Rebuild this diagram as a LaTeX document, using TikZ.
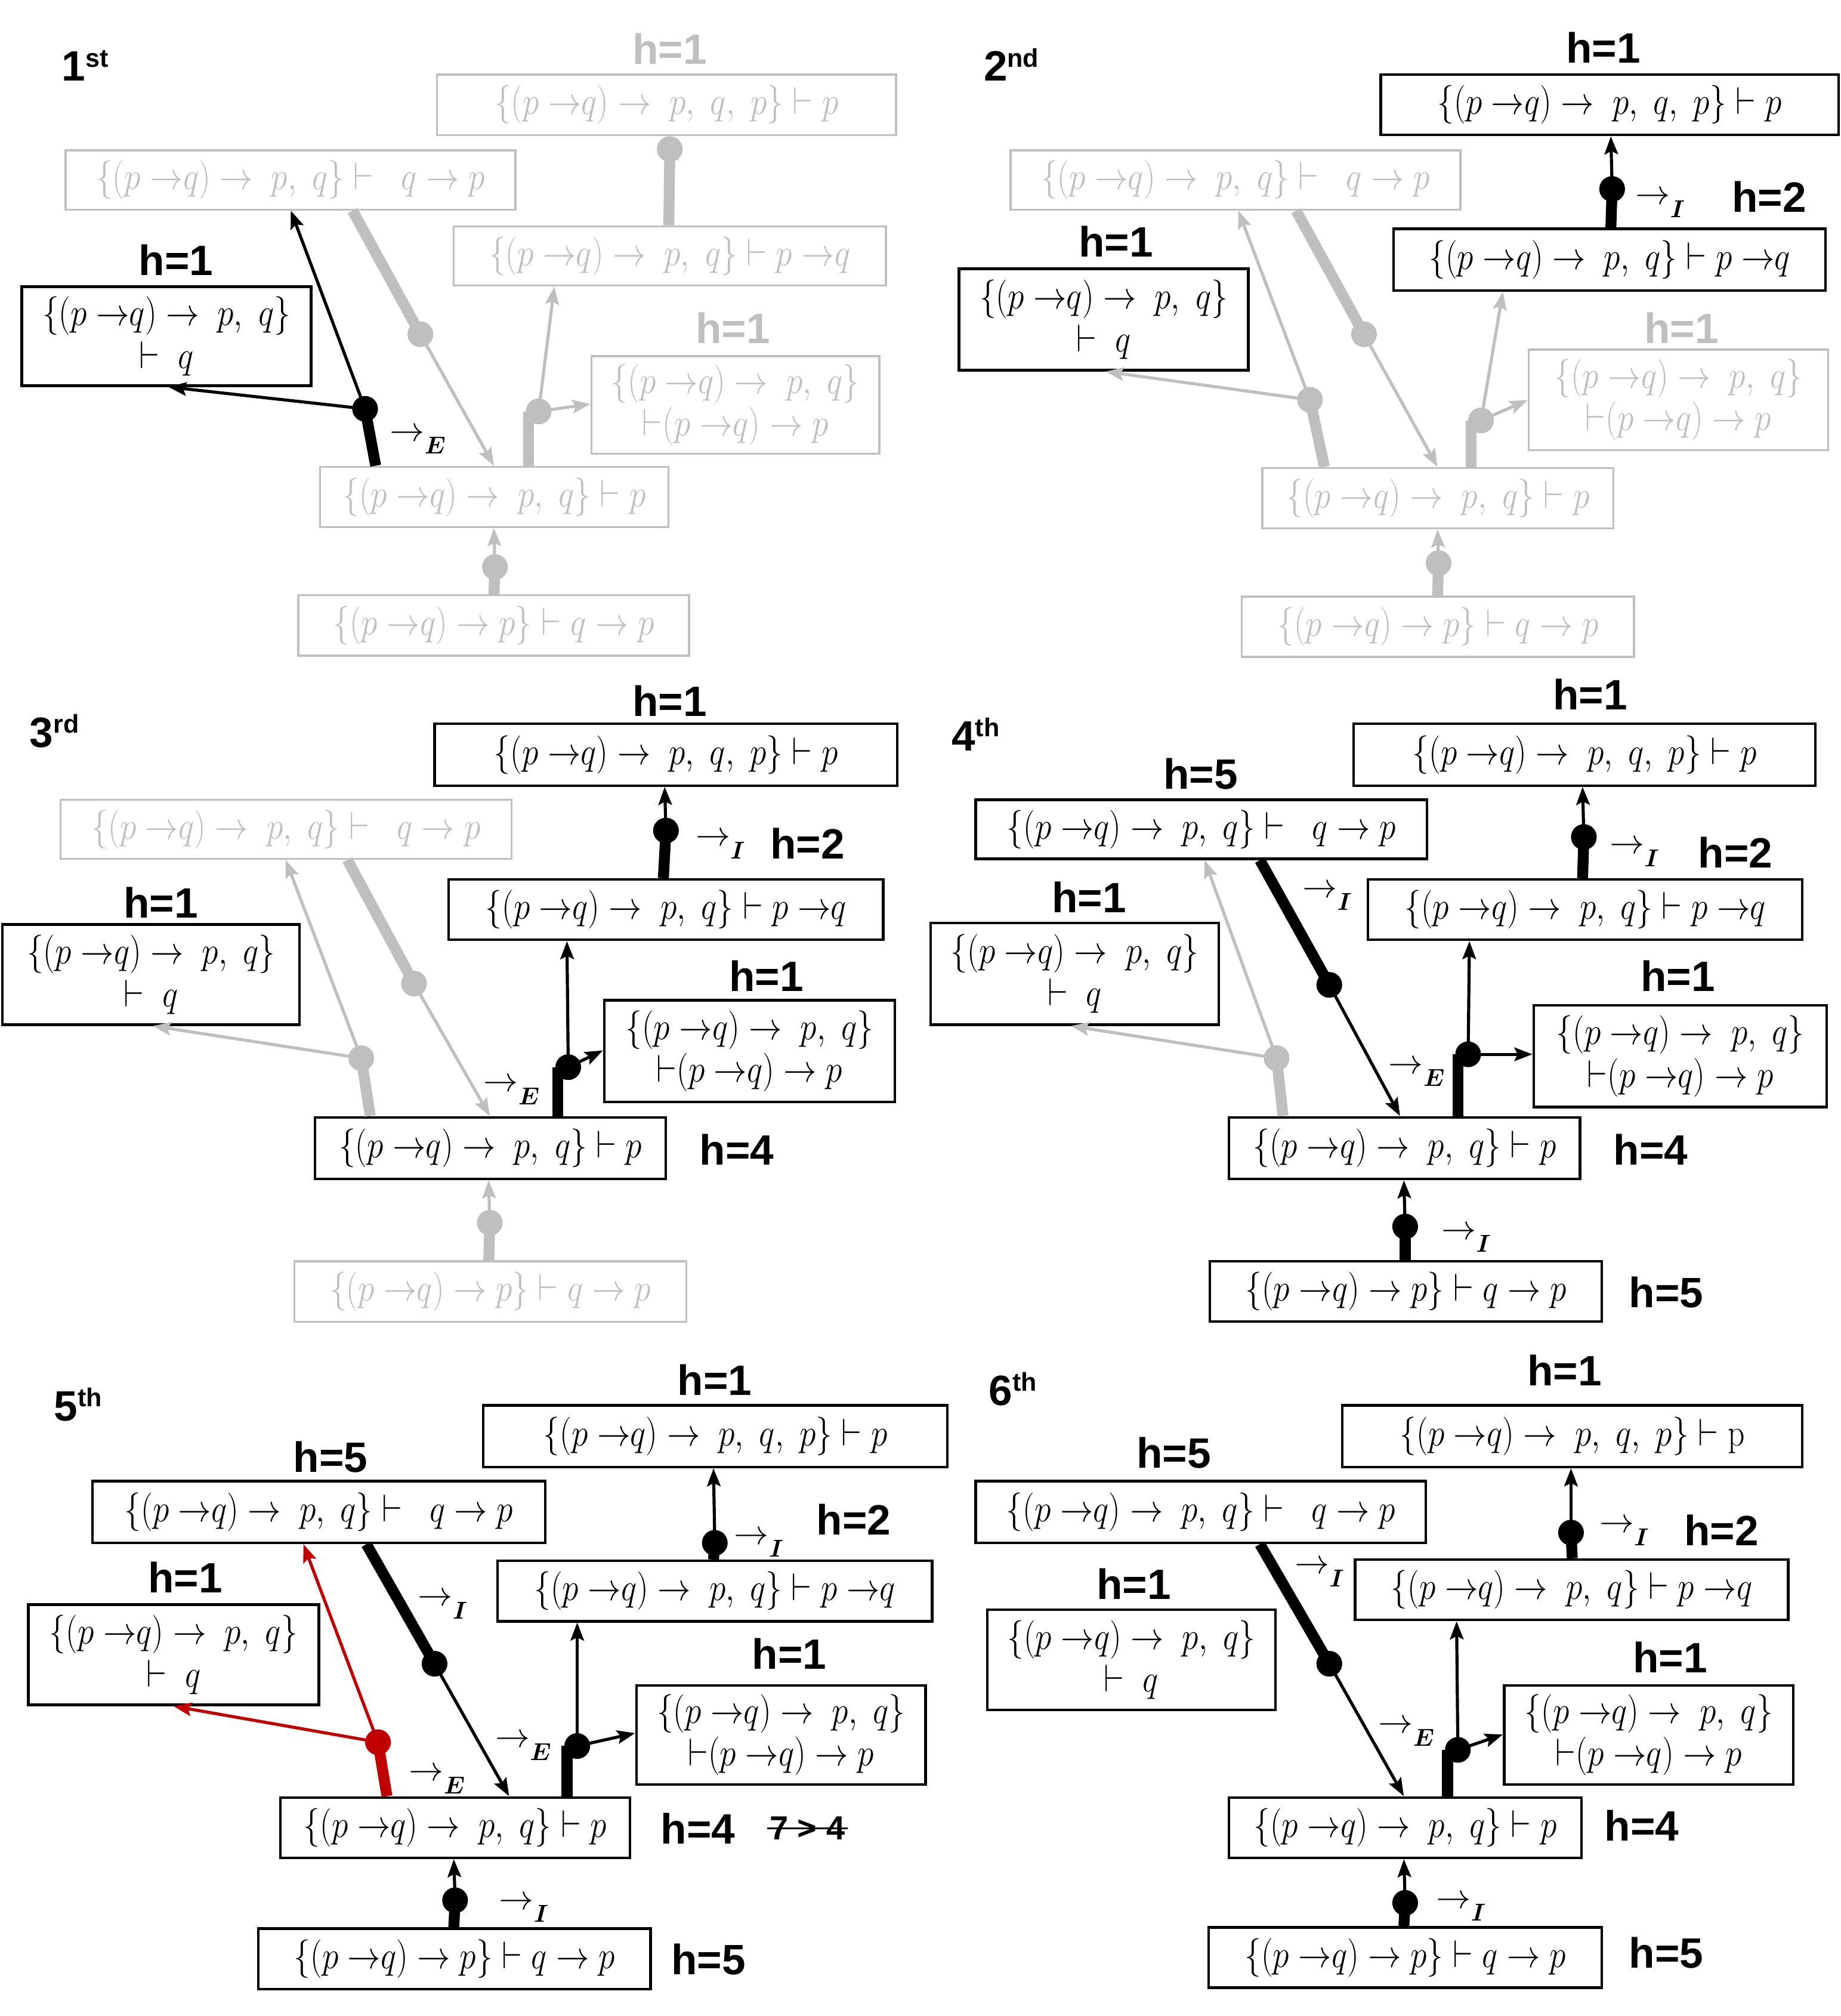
\RequirePackage{fix-cm}
\documentclass[tikz,border=0pt]{standalone}
\usepackage{amsmath}
\usepackage{fontspec}
\newfontfamily\hfont{Liberation Sans}
\usetikzlibrary{arrows.meta}
\definecolor{lg}{RGB}{191,191,191}
\definecolor{rd}{RGB}{192,0,0}
\newcommand{\bxfont}{\fontsize{30}{33}\selectfont}
\newcommand{\hlfont}{\hfont\bfseries\fontsize{33}{33}\selectfont}
\newcommand{\sups}[1]{\raisebox{11pt}{\fontsize{20}{20}\selectfont #1}}
\newcommand{\rlab}[1]{{\fontsize{27}{27}\selectfont$\rightarrow$\raisebox{-10pt}{\fontsize{19}{19}\selectfont$\boldsymbol{#1}$}}}
\newcommand{\sq}[1]{\scalebox{0.86}[1]{$#1$}}
\newcommand{\pqx}{(p\;{\rightarrow}q)}
\newcommand{\txA}{\sq{\{\pqx\rightarrow\;p,\ q,\ p\}\vdash p}}
\newcommand{\txAr}{\sq{\{\pqx\rightarrow\;p,\ q,\ p\}\vdash \mathrm{p}}}
\newcommand{\txB}{\sq{\{\pqx\rightarrow\;p,\ q\}\vdash\;\;q\rightarrow p}}
\newcommand{\txC}{\sq{\{\pqx\rightarrow\;p,\ q\}\vdash p\;{\rightarrow}q}}
\newcommand{\txD}{\sq{\{\pqx\rightarrow\;p,\ q\}}\\\sq{\vdash\;q}}
\newcommand{\txE}{\sq{\{\pqx\rightarrow\;p,\ q\}}\\\sq{\mathord{\vdash}\pqx\rightarrow p}}
\newcommand{\txF}{\sq{\{\pqx\rightarrow\;p,\ q\}\vdash p}}
\newcommand{\txG}{\sq{\{\pqx\rightarrow p\}\vdash q\rightarrow p}}
\newcommand{\mkbox}[7]{\node[#2,minimum width={#5-#3},minimum height={#6-#4}] (#1) at ({(#3+#5)/2},{(#4+#6)/2}) {#7};}
\tikzset{
  bk/.style={draw=black,line width=2pt,text=black,align=center,inner sep=0pt,font=\bxfont},
  bg/.style={draw=lg,line width=1.6pt,text=lg,align=center,inner sep=0pt,font=\bxfont},
  thk/.style={line width=8.5pt},
  arw/.style={line width=2.4pt,-{Stealth[length=14pt,width=10.5pt,inset=2.5pt]}},
  dt/.style={circle,fill=#1,inner sep=0pt,minimum size=20pt},
  dt/.default=black,
  hl/.style={font=\hlfont,inner sep=0pt},
  lab/.style={inner sep=0pt,anchor=base west},
  pnum/.style={inner sep=0pt,anchor=base west,font=\hlfont},
}
\begin{document}
\begin{tikzpicture}[x=1pt,y=-1pt]
\fill[white] (0,0) rectangle (1432,1568);
\useasboundingbox (0,0) rectangle (1432,1568);

% ================= Panel 1 =================
\mkbox{aA}{bg}{340}{58}{697}{105}{\txA}
\mkbox{aB}{bg}{51}{117}{401}{163}{\txB}
\mkbox{aC}{bg}{353}{176}{689}{222}{\txC}
\mkbox{aD}{bk}{17}{223}{242}{300}{\txD}
\mkbox{aE}{bg}{460}{277}{684}{353}{\txE}
\mkbox{aF}{bg}{249}{363}{520}{410}{\txF}
\mkbox{aG}{bg}{232}{463}{536}{510}{\txG}
\node[dt=lg] (ad1) at (385,441) {};
\draw[thk,lg] ([xshift=153pt]aG.north west) -- (ad1.center);
\draw[arw,lg] (ad1.center) -- ([xshift=136pt]aF.south west);
\node[dt=lg] (ad2) at (419,320) {};
\coordinate (aFt) at ([xshift=163pt]aF.north west);
\draw[thk,lg] (aFt) -- (aFt |- ad2.center);
\draw[arw,lg] (ad2.center) -- ([xshift=79pt]aC.south west);
\draw[arw,lg] (ad2.center) -- ([yshift=-38pt]aE.north west);
\node[dt=lg] (ad3) at (327,260) {};
\draw[thk,lg] ([xshift=224pt]aB.south west) -- (ad3.center);
\draw[arw,lg] (ad3.center) -- ([xshift=136pt]aF.north west);
\node[dt=lg] (ad5) at (521,116) {};
\draw[thk,lg] ([xshift=168pt]aC.north west) -- (ad5.center);
\draw[arw,lg] (ad5.center) -- ([xshift=181pt,yshift=-6pt]aA.south west);
\node[dt] (ad4) at (284,318) {};
\draw[thk] ([xshift=44pt]aF.north west) -- (ad4.center);
\draw[arw] (ad4.center) -- ([xshift=176pt]aB.south west);
\draw[arw] (ad4.center) -- ([xshift=115pt]aD.south west);
\node[pnum] (an) at (48,63) {1\sups{st}};
\node[hl,text=lg] (ah1) at (521,38) {h=1};
\node[hl] (ah2) at (137,202) {h=1};
\node[hl,text=lg] (ah3) at (570,255) {h=1};
\node[lab] (al1) at (303,343) {\rlab{E}};

% ================= Panel 2 =================
\mkbox{bA}{bk}{1074}{58}{1430}{105}{\txA}
\mkbox{bB}{bg}{786}{117}{1136}{163}{\txB}
\mkbox{bC}{bk}{1084}{178}{1420}{226}{\txC}
\mkbox{bD}{bk}{746}{209}{971}{288}{\txD}
\mkbox{bE}{bg}{1189}{272}{1422}{350}{\txE}
\mkbox{bF}{bg}{982}{364}{1255}{411}{\txF}
\mkbox{bG}{bg}{966}{464}{1271}{511}{\txG}
\node[dt=lg] (bd2) at (1119,438) {};
\draw[thk,lg] ([xshift=153pt]bG.north west) -- (bd2.center);
\draw[arw,lg] (bd2.center) -- ([xshift=137pt]bF.south west);
\node[dt=lg] (bd3) at (1152,327) {};
\coordinate (bFt) at ([xshift=163pt]bF.north west);
\draw[thk,lg] (bFt) -- (bFt |- bd3.center);
\draw[arw,lg] (bd3.center) -- ([xshift=86pt]bC.south west);
\draw[arw,lg] (bd3.center) -- ([yshift=-40pt]bE.north west);
\node[dt=lg] (bd4) at (1019,311) {};
\draw[thk,lg] ([xshift=49pt]bF.north west) -- (bd4.center);
\draw[arw,lg] (bd4.center) -- ([xshift=178pt]bB.south west);
\draw[arw,lg] (bd4.center) -- ([xshift=115pt]bD.south west);
\node[dt=lg] (bd5) at (1061,260) {};
\draw[thk,lg] ([xshift=223pt]bB.south west) -- (bd5.center);
\draw[arw,lg] (bd5.center) -- ([xshift=137pt]bF.north west);
\node[dt] (bd1) at (1254,147) {};
\draw[thk] ([xshift=170pt]bC.north west) -- (bd1.center);
\draw[arw] (bd1.center) -- ([xshift=180pt]bA.south west);
\node[pnum] (bn) at (765,63) {2\sups{nd}};
\node[hl] (bh1) at (1247,37) {h=1};
\node[hl] (bh2) at (1376,153) {h=2};
\node[hl] (bh3) at (868,188) {h=1};
\node[hl,text=lg] (bh4) at (1308,255) {h=1};
\node[lab] (bl1) at (1272,159) {\rlab{I}};

% ================= Panel 3 =================
\mkbox{cA}{bk}{338}{563}{698}{611}{\txA}
\mkbox{cB}{bg}{47}{622}{398}{668}{\txB}
\mkbox{cC}{bk}{349}{684}{687}{731}{\txC}
\mkbox{cD}{bk}{2}{719}{233}{797}{\txD}
\mkbox{cE}{bk}{470}{778}{696}{857}{\txE}
\mkbox{cF}{bk}{245}{869}{518}{917}{\txF}
\mkbox{cG}{bg}{229}{981}{534}{1028}{\txG}
\node[dt=lg] (cd3) at (281,823) {};
\draw[thk,lg] ([xshift=44pt]cF.north west) -- (cd3.center);
\draw[arw,lg] (cd3.center) -- ([xshift=176pt]cB.south west);
\draw[arw,lg] (cd3.center) -- ([xshift=118pt]cD.south west);
\node[dt=lg] (cd4) at (322,765) {};
\draw[thk,lg] ([xshift=224pt]cB.south west) -- (cd4.center);
\draw[arw,lg] (cd4.center) -- ([xshift=137pt]cF.north west);
\node[dt=lg] (cd5) at (381,951) {};
\draw[thk,lg] ([xshift=152pt]cG.north west) -- (cd5.center);
\draw[arw,lg] (cd5.center) -- ([xshift=136pt]cF.south west);
\node[dt] (cd1) at (518,646) {};
\draw[thk] ([xshift=168pt]cC.north west) -- (cd1.center);
\draw[arw] (cd1.center) -- ([xshift=180pt]cA.south west);
\node[dt] (cd2) at (442,830) {};
\coordinate (cFt) at ([xshift=190pt]cF.north west);
\draw[thk] (cFt) -- (cFt |- cd2.center);
\draw[arw] (cd2.center) -- ([xshift=93pt]cC.south west);
\draw[arw] (cd2.center) -- ([yshift=-40pt]cE.north west);
\node[pnum] (cn) at (23,581) {3\sups{rd}};
\node[hl] (ch1) at (521,545) {h=1};
\node[hl] (ch2) at (628,656) {h=2};
\node[hl] (ch3) at (125,702) {h=1};
\node[hl] (ch4) at (596,759) {h=1};
\node[hl] (ch5) at (573,894) {h=4};
\node[lab] (cl1) at (541,658) {\rlab{I}};
\node[lab] (cl2) at (376,849) {\rlab{E}};

% ================= Panel 4 =================
\mkbox{dA}{bk}{1053}{563}{1412}{611}{\txA}
\mkbox{dB}{bk}{759}{622}{1110}{668}{\txB}
\mkbox{dC}{bk}{1064}{684}{1402}{731}{\txC}
\mkbox{dD}{bk}{724}{718}{948}{797}{\txD}
\mkbox{dE}{bk}{1193}{782}{1421}{861}{\txE}
\mkbox{dF}{bk}{956}{869}{1229}{917}{\txF}
\mkbox{dG}{bk}{941}{981}{1246}{1028}{\txG}
\node[dt=lg] (dd3) at (993,823) {};
\draw[thk,lg] ([xshift=43pt]dF.north west) -- (dd3.center);
\draw[arw,lg] (dd3.center) -- ([xshift=179pt]dB.south west);
\draw[arw,lg] (dd3.center) -- ([xshift=110pt]dD.south west);
\node[dt] (dd1) at (1232,651) {};
\draw[thk] ([xshift=168pt]dC.north west) -- (dd1.center);
\draw[arw] (dd1.center) -- ([xshift=179pt]dA.south west);
\node[dt] (dd2) at (1142,820) {};
\coordinate (dFt) at ([xshift=179pt]dF.north west);
\draw[thk] (dFt) -- (dFt |- dd2.center);
\draw[arw] (dd2.center) -- ([xshift=80pt]dC.south west);
\draw[arw] (dd2.center) -- ([yshift=-39pt]dE.north west);
\node[dt] (dd4) at (1034,766) {};
\draw[thk] ([xshift=222pt]dB.south west) -- (dd4.center);
\draw[arw] (dd4.center) -- ([xshift=134pt]dF.north west);
\node[dt] (dd5) at (1093,954) {};
\draw[thk] ([xshift=153pt]dG.north west) -- (dd5.center);
\draw[arw] (dd5.center) -- ([xshift=137pt]dF.south west);
\node[pnum] (dn) at (740,584) {4\sups{th}};
\node[hl] (dh1) at (1237,540) {h=1};
\node[hl] (dh2) at (934,602) {h=5};
\node[hl] (dh3) at (1350,663) {h=2};
\node[hl] (dh4) at (847,698) {h=1};
\node[hl] (dh5) at (1305,759) {h=1};
\node[hl] (dh6) at (1284,894) {h=4};
\node[hl] (dh7) at (1296,1005) {h=5};
\node[lab] (dl1) at (1252,664) {\rlab{I}};
\node[lab] (dl2) at (1080,835) {\rlab{E}};
\node[lab] (dl3) at (1121,964) {\rlab{I}};
\node[lab] (dl4) at (1013,698) {\rlab{I}};

% ================= Panel 5 =================
\mkbox{eA}{bk}{376}{1093}{737}{1141}{\txA}
\mkbox{eB}{bk}{72}{1152}{424}{1200}{\txB}
\mkbox{eC}{bk}{387}{1214}{725}{1261}{\txC}
\mkbox{eD}{bk}{22}{1248}{248}{1326}{\txD}
\mkbox{eE}{bk}{495}{1311}{720}{1388}{\txE}
\mkbox{eF}{bk}{218}{1398}{490}{1445}{\txF}
\mkbox{eG}{bk}{201}{1500}{506}{1547}{\txG}
\node[dt] (ed1) at (556,1200) {};
\draw[thk] ([xshift=169pt]eC.north west) -- (ed1.center);
\draw[arw] (ed1.center) -- ([xshift=180pt]eA.south west);
\node[dt] (ed2) at (449,1358) {};
\coordinate (eFt) at ([xshift=224pt]eF.north west);
\draw[thk] (eFt) -- (eFt |- ed2.center);
\draw[arw] (ed2.center) -- ([xshift=63pt]eC.south west);
\draw[arw] (ed2.center) -- ([yshift=-38pt]eE.north west);
\node[dt] (ed4) at (338,1294) {};
\draw[thk] ([xshift=214pt]eB.south west) -- (ed4.center);
\draw[arw] (ed4.center) -- ([xshift=179pt]eF.north west);
\node[dt] (ed5) at (354,1478) {};
\draw[thk] ([xshift=153pt]eG.north west) -- (ed5.center);
\draw[arw] (ed5.center) -- ([xshift=136pt]eF.south west);
\node[dt=rd] (ed3) at (294,1355) {};
\draw[thk,rd] ([xshift=84pt]eF.north west) -- (ed3.center);
\draw[arw,rd] (ed3.center) -- ([xshift=165pt]eB.south west);
\draw[arw,rd] (ed3.center) -- ([xshift=114pt]eD.south west);
\node[pnum] (en) at (42,1105) {5\sups{th}};
\node[hl] (eh1) at (556,1073) {h=1};
\node[hl] (eh2) at (257,1133) {h=5};
\node[hl] (eh3) at (664,1182) {h=2};
\node[hl] (eh4) at (144,1227) {h=1};
\node[hl] (eh5) at (614,1286) {h=1};
\node[hl] (eh6) at (543,1422) {h=4};
\node[hl] (eh7) at (551,1524) {h=5};
\node[font=\hfont\bfseries\fontsize{26}{26}\selectfont,inner sep=0pt] (es) at (628,1422) {7 > 4};
\draw[line width=1.5pt] ([xshift=-2pt]es.west) -- ([xshift=2pt]es.east);
\node[lab] (el1) at (571,1201) {\rlab{I}};
\node[lab] (el2) at (325,1249) {\rlab{I}};
\node[lab] (el3) at (385,1359) {\rlab{E}};
\node[lab] (el4) at (318,1385) {\rlab{E}};
\node[lab] (el5) at (388,1485) {\rlab{I}};

% ================= Panel 6 =================
\mkbox{fA}{bk}{1044}{1093}{1402}{1141}{\txAr}
\mkbox{fB}{bk}{759}{1152}{1109}{1200}{\txB}
\mkbox{fC}{bk}{1054}{1213}{1391}{1260}{\txC}
\mkbox{fD}{bk}{768}{1252}{992}{1330}{\txD}
\mkbox{fE}{bk}{1170}{1311}{1395}{1388}{\txE}
\mkbox{fF}{bk}{956}{1398}{1230}{1445}{\txF}
\mkbox{fG}{bk}{940}{1499}{1246}{1546}{\txG}
\node[dt] (fd1) at (1222,1192) {};
\draw[thk] ([xshift=170pt]fC.north west) -- (fd1.center);
\draw[arw] (fd1.center) -- ([xshift=179pt]fA.south west);
\node[dt] (fd2) at (1134,1361) {};
\coordinate (fFt) at ([xshift=171pt]fF.north west);
\draw[thk] (fFt) -- (fFt |- fd2.center);
\draw[arw] (fd2.center) -- ([xshift=80pt]fC.south west);
\draw[arw] (fd2.center) -- ([yshift=-39pt]fE.north west);
\node[dt] (fd4) at (1034,1294) {};
\draw[thk] ([xshift=222pt]fB.south west) -- (fd4.center);
\draw[arw] (fd4.center) -- ([xshift=137pt]fF.north west);
\node[dt] (fd5) at (1093,1480) {};
\draw[thk] ([xshift=153pt]fG.north west) -- (fd5.center);
\draw[arw] (fd5.center) -- ([xshift=137pt]fF.south west);
\node[pnum] (fn) at (769,1093) {6\sups{th}};
\node[hl] (fh1) at (1217,1066) {h=1};
\node[hl] (fh2) at (913,1130) {h=5};
\node[hl] (fh3) at (1339,1190) {h=2};
\node[hl] (fh4) at (882,1232) {h=1};
\node[hl] (fh5) at (1299,1289) {h=1};
\node[hl] (fh6) at (1277,1420) {h=4};
\node[hl] (fh7) at (1296,1519) {h=5};
\node[lab] (fl1) at (1244,1192) {\rlab{I}};
\node[lab] (fl2) at (1007,1224) {\rlab{I}};
\node[lab] (fl3) at (1072,1348) {\rlab{E}};
\node[lab] (fl4) at (1117,1484) {\rlab{I}};
\end{tikzpicture}
\end{document}
